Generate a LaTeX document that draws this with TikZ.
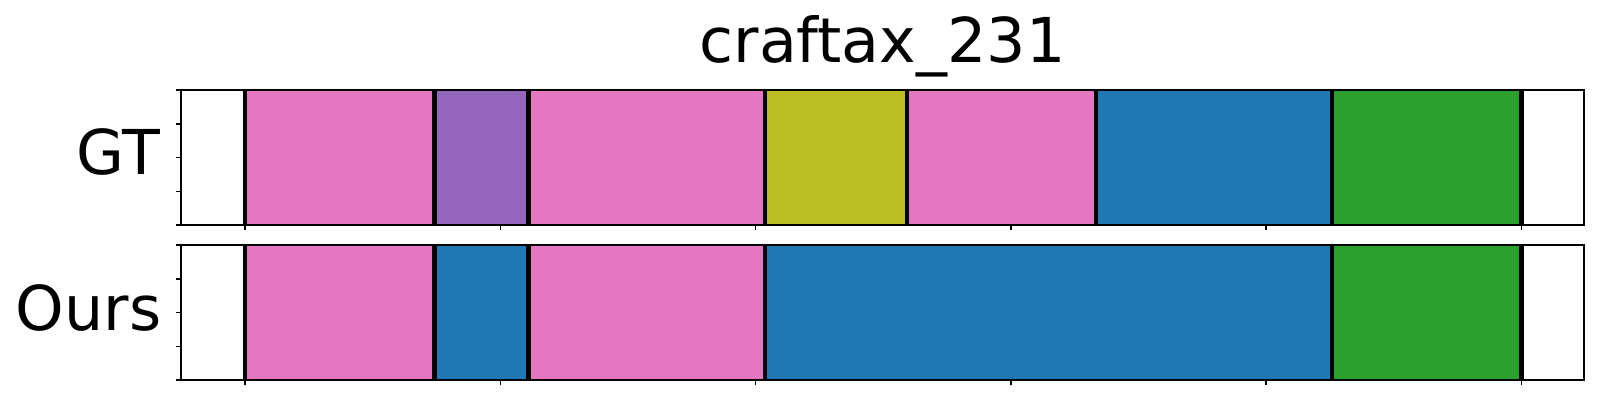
\documentclass[tikz,border=0pt]{standalone}
\usepackage{fontspec}
\setmainfont{DejaVu Sans}
\usetikzlibrary{positioning}

\definecolor{tabpink}{HTML}{E377C2}
\definecolor{tabpurple}{HTML}{9467BD}
\definecolor{tabolive}{HTML}{BCBD22}
\definecolor{tabblue}{HTML}{1F77B4}
\definecolor{tabgreen}{HTML}{2CA02C}

\begin{document}
\begin{tikzpicture}[x=0.1mm, y=-0.1mm,
		frame/.style={draw=black, line width=0.2mm},
		cut/.style={draw=black, line width=0.45mm},
		tickmark/.style={draw=black, line width=0.15mm},
		lab/.style={font=\fontsize{17.6}{20}\selectfont, inner sep=0pt}
	]
				\useasboundingbox (0,0) rectangle (1600,400);

				% GT row
				\foreach \a/\b/\c in {245/434.3/tabpink, 434.3/528.7/tabpurple, 528.7/765/tabpink, 765/907/tabolive, 907/1096/tabpink, 1096/1332/tabblue, 1332/1521.5/tabgreen}
					\fill[\c] (\a,90) rectangle (\b,225);
				\foreach \x in {245,434.3,528.7,765,907,1096,1332,1521.5}
					\draw[cut] (\x,90) -- (\x,225);

				% Ours row
				\foreach \a/\b/\c in {245/434.3/tabpink, 434.3/528.7/tabblue, 528.7/765/tabpink, 765/1332/tabblue, 1332/1521.5/tabgreen}
					\fill[\c] (\a,245) rectangle (\b,380);
				\foreach \x in {245,434.3,528.7,765,1332,1521.5}
					\draw[cut] (\x,245) -- (\x,380);

				\draw[frame] (181,90) rectangle (1584,225);
				\draw[frame] (181,245) rectangle (1584,380);

				\foreach \y in {0,...,4} {
					\draw[tickmark] (176,90+33.75*\y) -- (181,90+33.75*\y);
					\draw[tickmark] (176,245+33.75*\y) -- (181,245+33.75*\y);
				};
				\foreach \i in {0,...,5} {
					\draw[tickmark] (245+255.3*\i,225) -- (245+255.3*\i,230);
					\draw[tickmark] (245+255.3*\i,380) -- (245+255.3*\i,385);
				};

				\node[lab, anchor=base] (title) at (882.5,62) {craftax\_231};
				\node[lab, anchor=base east] (gt) at (161,174) {GT};
				\node[lab, anchor=base east] (ours) at (162,330) {Ours};
			\end{tikzpicture}
\end{document}
